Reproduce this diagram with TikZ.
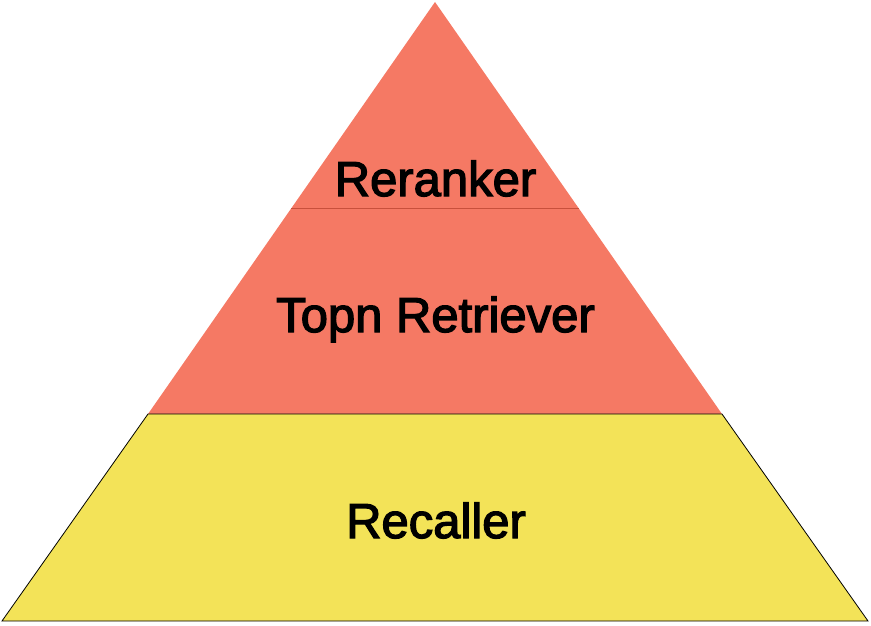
\documentclass[tikz,border=0pt]{standalone}
\usepackage{fontspec}
\setmainfont{Liberation Sans}
\newfontfamily\medfont[FakeBold=2.6]{Liberation Sans}
\definecolor{salmon}{RGB}{245,121,100}
\definecolor{lemon}{RGB}{243,227,88}
\definecolor{divline}{RGB}{200,80,60}
\begin{document}
\begin{tikzpicture}[x=1pt,y=-1pt,
  lbl/.style={font=\medfont\fontsize{49}{52}\selectfont, text=black, inner sep=0pt, anchor=base}]
\useasboundingbox (0,0) rectangle (871,626);
\coordinate (apex) at (435,2);
\coordinate (ml) at (291,208);
\coordinate (mr) at (579,208);
\coordinate (bl) at (148,414);
\coordinate (br) at (722,414);
\coordinate (fl) at (2,621);
\coordinate (fr) at (868,621);
\fill[salmon] (apex) -- (br) -- (bl) -- cycle;
\draw[divline, line width=0.8pt] (ml) -- (mr);
\filldraw[fill=lemon, draw=black, line width=0.8pt, line join=miter] (bl) -- (br) -- (fr) -- (fl) -- cycle;
\node[lbl] (rr) at (435.5,196) {Reranker};
\node[lbl] (tr) at (435.5,332) {Topn Retriever};
\node[lbl] (rc) at (436,538) {Recaller};
\end{tikzpicture}
\end{document}
